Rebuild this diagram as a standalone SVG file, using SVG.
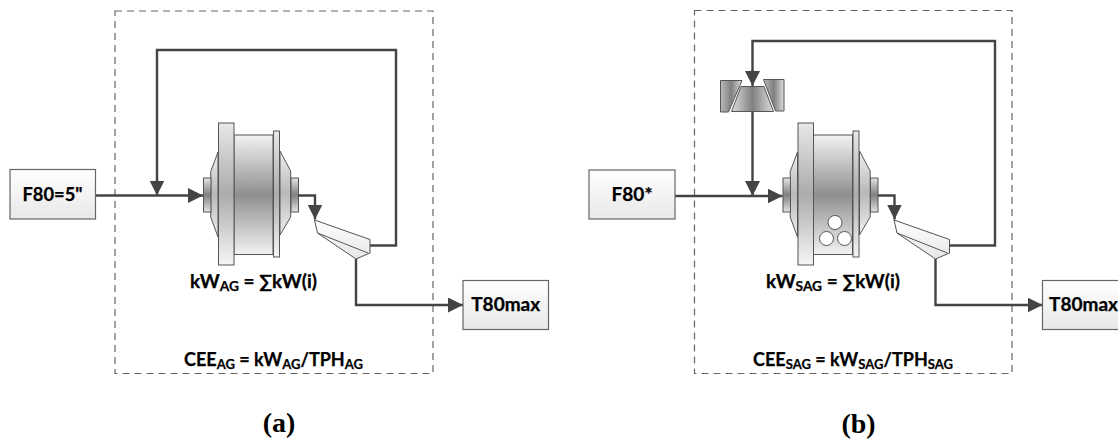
<svg xmlns="http://www.w3.org/2000/svg" xmlns:xlink="http://www.w3.org/1999/xlink" width="1118" height="442" viewBox="0 0 1118 442">
<style>
text{font-family:"Lato","Carlito","Open Sans",sans-serif;font-weight:700;fill:#000}
.lbl{font-size:18px;stroke:#000;stroke-width:.25}
.sub{font-size:13px}
.box{fill:url(#gBox);stroke:#666;stroke-width:1.200}
.dash{fill:none;stroke:#666;stroke-width:1.200;stroke-dasharray:7 5}
.conn{fill:none;stroke:#444;stroke-width:2.400;marker-end:url(#ah)}
.plain{fill:none;stroke:#444;stroke-width:2.400}
.m{stroke:#555;stroke-width:1}
.cap{font-family:"Liberation Serif",serif;font-size:28px;text-anchor:middle;fill:#000}
</style>
<defs>
<marker id="ah" markerUnits="userSpaceOnUse" markerWidth="15" markerHeight="15" refX="15" refY="7.500" orient="auto"><path d="M0 0L15 7.500L0 15Z" fill="#444"/></marker>
<linearGradient id="gBox" x1="0" y1="0" x2="0" y2="1"><stop offset="0" stop-color="#fff"/><stop offset="1" stop-color="#e8e8e8"/></linearGradient>
<linearGradient id="gBody" x1="0" y1="0" x2="0" y2="1"><stop offset="0" stop-color="#f2f2f2"/><stop offset=".5" stop-color="#8f8f8f"/><stop offset="1" stop-color="#f2f2f2"/></linearGradient>
<linearGradient id="gFl" x1="0" y1="0" x2="0" y2="1"><stop offset="0" stop-color="#e8e8e8"/><stop offset=".5" stop-color="#ababab"/><stop offset="1" stop-color="#f6f6f6"/></linearGradient>
<linearGradient id="gCone" x1="0" y1="0" x2="0" y2="1"><stop offset="0" stop-color="#f0f0f0"/><stop offset=".5" stop-color="#b8b8b8"/><stop offset="1" stop-color="#f0f0f0"/></linearGradient>
<linearGradient id="gStub" x1="0" y1="0" x2="0" y2="1"><stop offset="0" stop-color="#e4e4e4"/><stop offset=".5" stop-color="#808080"/><stop offset="1" stop-color="#e4e4e4"/></linearGradient>
<linearGradient id="gCy" x1="0" y1="0" x2="0" y2="1"><stop offset="0" stop-color="#fff"/><stop offset="1" stop-color="#e6e6e6"/></linearGradient>
<linearGradient id="gJaw" x1="0" y1="0" x2="1" y2="0"><stop offset="0" stop-color="#bbb"/><stop offset=".5" stop-color="#808080"/><stop offset="1" stop-color="#ddd"/></linearGradient>
<linearGradient id="gMid" x1="0" y1="0" x2="1" y2="0"><stop offset="0" stop-color="#ddd"/><stop offset=".5" stop-color="#808080"/><stop offset="1" stop-color="#ddd"/></linearGradient>
<g id="mill">
<path class="m" fill="url(#gCone)" d="M218 152L210.700 171.500V217L218 237Z"/>
<path class="m" fill="url(#gCone)" d="M280 151L290.700 171V217L280 235Z"/>
<rect class="m" x="203.500" y="178" width="7.500" height="34" fill="url(#gStub)"/>
<rect class="m" x="291" y="178" width="7.500" height="34" fill="url(#gStub)"/>
<rect class="m" x="234" y="135" width="39" height="119.500" fill="url(#gBody)"/>
<rect class="m" x="218.500" y="123" width="15.500" height="142" fill="url(#gFl)"/>
<rect class="m" x="273.500" y="131" width="6" height="126" fill="url(#gFl)"/>
</g>
<g id="cyclone">
<path class="m" fill="url(#gCy)" d="M314.500 220L370 239.500V253L356 259L317.500 233Z"/>
<path class="m" fill="none" d="M317.500 233L368 253"/>
</g>
</defs>
<rect width="1118" height="442" fill="#fff"/>

<rect class="dash" x="115" y="11" width="318" height="362.500"/>
<rect class="dash" x="694.500" y="10.500" width="317.500" height="363"/>

<g id="mill-a"><use xlink:href="#mill"/></g>
<g id="cyclone-a"><use xlink:href="#cyclone"/></g>
<g id="mill-b"><use xlink:href="#mill" x="579.500"/>
<circle class="m" cx="835" cy="222.500" r="7" fill="#fff"/><circle class="m" cx="826.500" cy="238.500" r="7" fill="#fff"/><circle class="m" cx="844.500" cy="238.500" r="7" fill="#fff"/></g>
<g id="cyclone-b"><use xlink:href="#cyclone" x="579.500"/></g>
<g id="crusher">
<path class="m" fill="url(#gJaw)" d="M720.500 80.500H742L728.500 112H720.500Z"/>
<path class="m" fill="url(#gMid)" d="M741 86.500H764L773.500 111.500H731.500Z"/>
<path class="m" fill="url(#gJaw)" d="M763.500 79.500H784V111H775.500Z"/>
</g>

<g id="connectors">
<path class="conn" d="M95.500 195.500H203"/>
<path class="conn" d="M298 195.500H315V219.500"/>
<path class="plain" d="M370 245.500H396V50H157V182"/>
<path class="conn" d="M157 180V195.500"/>
<path class="conn" d="M356 259V305H463"/>
<path class="conn" d="M675 196H782.500"/>
<path class="conn" d="M878 195.500H894.500V219.500"/>
<path class="plain" d="M949.500 245.500H995V41H752.500V75"/>
<path class="conn" d="M752.500 70V86"/>
<path class="conn" d="M752.500 112V196"/>
<path class="conn" d="M935.500 259V305H1042.500"/>
</g>

<g id="f80-a"><rect class="box" x="10" y="169.500" width="85.500" height="49.500"/><text class="lbl" x="52.500" y="200.500" text-anchor="middle" textLength="60" lengthAdjust="spacingAndGlyphs">F80=5"</text></g>
<g id="t80-a"><rect class="box" x="463" y="280.500" width="85.500" height="49"/><text class="lbl" x="505.700" y="310.500" text-anchor="middle" textLength="69" lengthAdjust="spacingAndGlyphs">T80max</text></g>
<g id="f80-b"><rect class="box" x="589" y="170" width="86" height="49"/><text class="lbl" x="632" y="201" text-anchor="middle" textLength="41" lengthAdjust="spacingAndGlyphs">F80*</text></g>
<g id="t80-b"><rect class="box" x="1042.500" y="280.500" width="85.500" height="49"/><text class="lbl" x="1049" y="310.500" textLength="69" lengthAdjust="spacingAndGlyphs">T80max</text></g>

<text class="lbl" x="190" y="288" textLength="127" lengthAdjust="spacingAndGlyphs">kW<tspan class="sub" dy="3">AG</tspan><tspan dy="-3"> = ∑kW(i)</tspan></text>
<text class="lbl" x="184" y="366" textLength="179" lengthAdjust="spacingAndGlyphs">CEE<tspan class="sub" dy="3">AG</tspan><tspan dy="-3"> = kW</tspan><tspan class="sub" dy="3">AG</tspan><tspan dy="-3">/TPH</tspan><tspan class="sub" dy="3">AG</tspan></text>
<text class="lbl" x="766" y="288" textLength="134" lengthAdjust="spacingAndGlyphs">kW<tspan class="sub" dy="3">SAG</tspan><tspan dy="-3"> = ∑kW(i)</tspan></text>
<text class="lbl" x="753" y="365.500" textLength="200" lengthAdjust="spacingAndGlyphs">CEE<tspan class="sub" dy="3">SAG</tspan><tspan dy="-3"> = kW</tspan><tspan class="sub" dy="3">SAG</tspan><tspan dy="-3">/TPH</tspan><tspan class="sub" dy="3">SAG</tspan></text>
<text class="cap" x="279" y="432">(a)</text>
<text class="cap" x="858.500" y="432.500">(b)</text>
</svg>
